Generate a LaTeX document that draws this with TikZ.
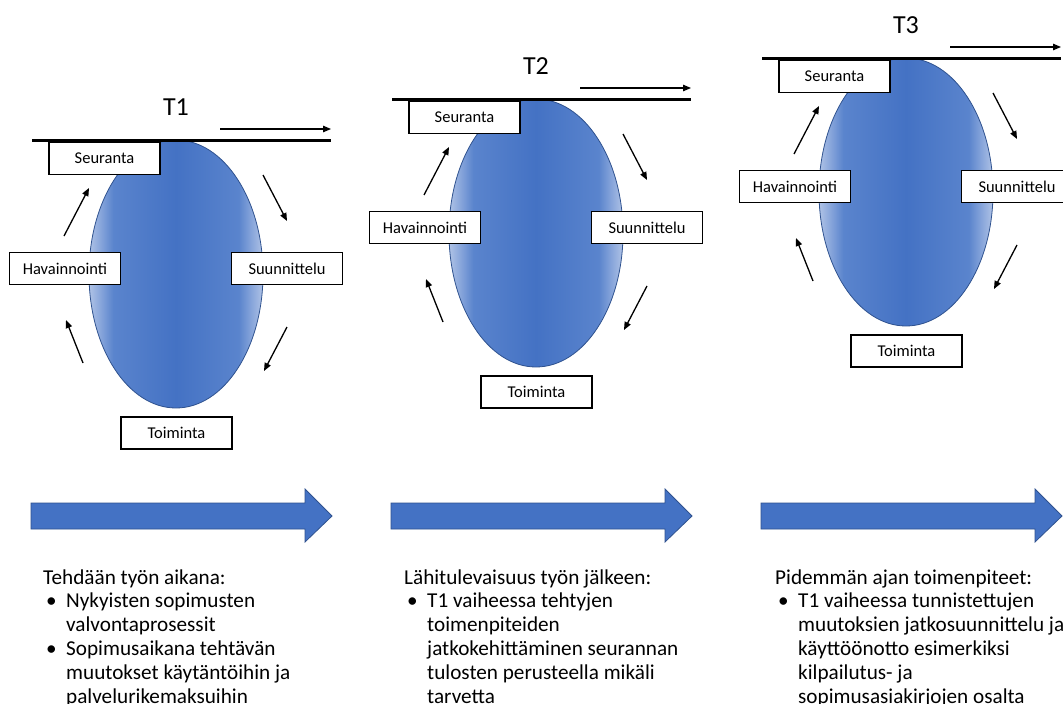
\documentclass[tikz,border=0pt]{standalone}
\usepackage{fontspec}
\setmainfont{Carlito}
\usetikzlibrary{arrows.meta,shapes.geometric}
\definecolor{ofblue}{HTML}{4472C4}
\definecolor{ofdark}{HTML}{2F528F}
\definecolor{ofedge}{HTML}{B0C3E6}
\definecolor{ofmid}{HTML}{5A84CD}
\pgfdeclarehorizontalshading{ellshade}{100bp}{color(0bp)=(ofedge); color(25bp)=(ofedge); color(32bp)=(ofmid); color(50bp)=(ofblue); color(68bp)=(ofmid); color(75bp)=(ofedge); color(100bp)=(ofedge)}
\newcommand\bitem[1]{\makebox[23pt][l]{\hspace{3pt}•}#1}
\newcommand\cont[1]{\hspace*{23pt}#1}
\tikzset{
  lbl/.style={draw, line width=1.2pt, fill=white, minimum width=111, minimum height=32, inner sep=0, font=\fontsize{16.5}{19}\selectfont},
  arr/.style={line width=1.3pt, -{Triangle[length=8pt,width=6.5pt]}},
  ell/.style={ellipse, draw=ofdark, line width=0.8pt, shading=ellshade, minimum width=174, minimum height=268, inner sep=0},
  title/.style={font=\fontsize{26}{30}\selectfont},
  body/.style={anchor=base west, align=left, inner sep=0, font=\fontsize{21.2}{23.8}\selectfont},
  blockarrow/.style={fill=ofblue, draw=ofdark, line width=0.8pt}
}
\begin{document}
\begin{tikzpicture}[x=1pt,y=-1pt]
\useasboundingbox (0,0) rectangle (1063,704);
\clip (0,0) rectangle (1063,704);
\fill[white] (0,0) rectangle (1063,704);
\foreach \i/\dx/\dy in {1/0/0, 2/360/-41, 3/730/-82}{
  \begin{scope}[shift={(\dx,\dy)}]
    \node[ell] (ell\i) at (176,274) {};
    \node[title] (t\i) at (176,107) {T\i};
    \node[lbl] (seu\i) at (104.5,158.5) {Seuranta};
    \node[lbl] (hav\i) at (65,268.5) {Havainnointi};
    \node[lbl] (suu\i) at (287,268.5) {Suunnittelu};
    \node[lbl] (toi\i) at (176.5,433) {Toiminta};
    \coordinate (ls\i) at (32,140);
    \coordinate (le\i) at (331,140);
    \draw[line width=3pt] (ls\i) -- (le\i);
    \coordinate (as\i) at (220,129);
    \coordinate (ae\i) at (331,129);
    \draw[arr] (as\i) -- (ae\i);
    \coordinate (p1s\i) at (64,236);  \coordinate (p1e\i) at (89,188);
    \coordinate (p2s\i) at (263,175); \coordinate (p2e\i) at (287,221);
    \coordinate (p3s\i) at (287,327); \coordinate (p3e\i) at (264,371);
    \coordinate (p4s\i) at (83,363);  \coordinate (p4e\i) at (66,320);
    \draw[arr] (p1s\i) -- (p1e\i);
    \draw[arr] (p2s\i) -- (p2e\i);
    \draw[arr] (p3s\i) -- (p3e\i);
    \draw[arr] (p4s\i) -- (p4e\i);
  \end{scope}
  \begin{scope}[shift={(\dx,0)}]
    \draw[blockarrow] (31,503) -- (305,503) -- (305,489) -- (332,516) -- (305,542) -- (305,529) -- (31,529) -- cycle;
  \end{scope}
}
\node[body] (txt1) at (43,703) {Tehdään työn aikana:\\
\bitem{Nykyisten sopimusten}\\
\cont{valvontaprosessit}\\
\bitem{Sopimusaikana tehtävän}\\
\cont{muutokset käytäntöihin ja}\\
\cont{palvelurikemaksuihin}};
\node[body] (txt2) at (404,703) {Lähitulevaisuus työn jälkeen:\\
\bitem{T1 vaiheessa tehtyjen}\\
\cont{toimenpiteiden}\\
\cont{jatkokehittäminen seurannan}\\
\cont{tulosten perusteella mikäli}\\
\cont{tarvetta}};
\node[body] (txt3) at (775,703) {Pidemmän ajan toimenpiteet:\\
\bitem{T1 vaiheessa tunnistettujen}\\
\cont{muutoksien jatkosuunnittelu ja}\\
\cont{käyttöönotto esimerkiksi}\\
\cont{kilpailutus- ja}\\
\cont{sopimusasiakirjojen osalta}};
\end{tikzpicture}
\end{document}
